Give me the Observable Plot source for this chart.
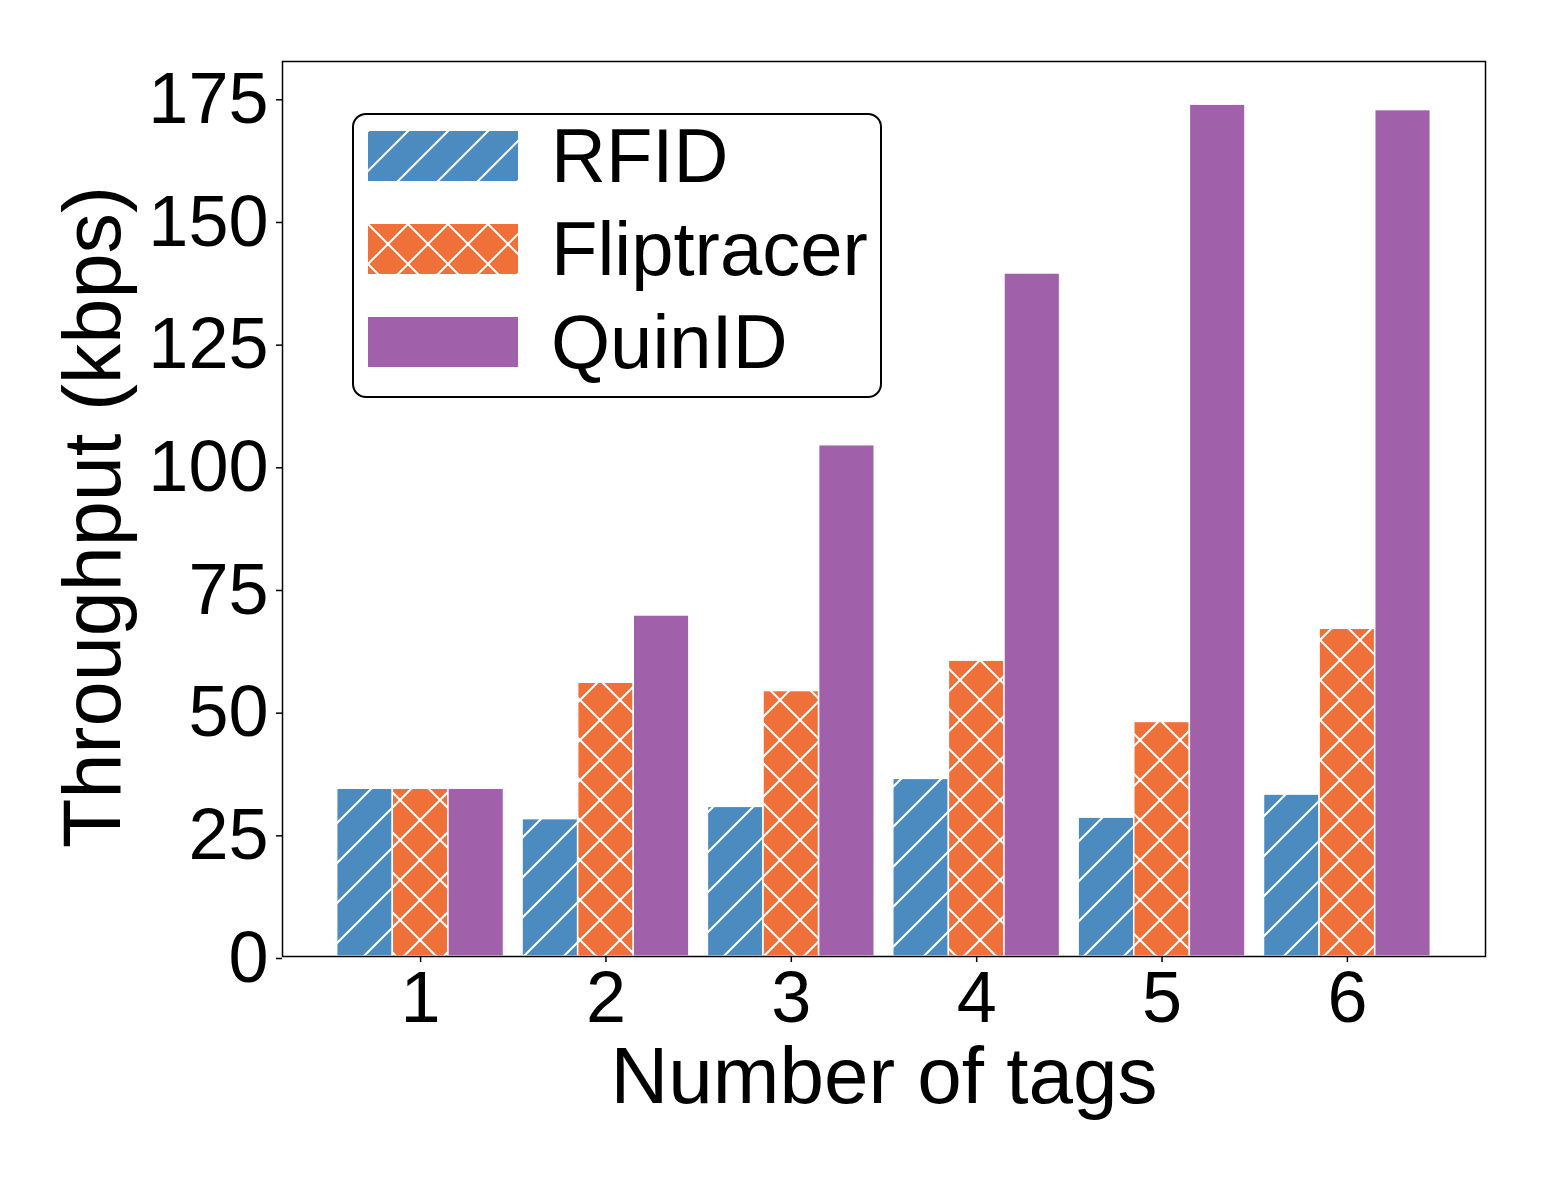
<!DOCTYPE html>
<html>
<head>
<meta charset="utf-8">
<script src="https://cdn.jsdelivr.net/npm/d3@7"></script>
<script src="https://cdn.jsdelivr.net/npm/@observablehq/plot@0.6"></script>
<style>
  html, body { margin: 0; padding: 0; background: #fff; }
  #wrap { position: relative; width: 1546px; height: 1181px; font-family: "Liberation Sans", Arial, sans-serif; }
  #legend { position: absolute; left: 352px; top: 113px; width: 526px; height: 281px; border: 2px solid #000; border-radius: 14px; background: #fff; box-sizing: content-box; }
  .item { position: absolute; left: 14px; height: 50px; display: flex; align-items: center; }
  .item svg { display: block; }
  .item span { position: absolute; left: 183px; top: 0; line-height: 50px; font-size: 76px; color: #000; white-space: nowrap; }
</style>
</head>
<body>
<div id="wrap"><div id="chart"></div><div id="legend"></div></div>
<script>
const tags = [1, 2, 3, 4, 5, 6];
const series = ["RFID", "Fliptracer", "QuinID"];
const rfid = [34.2, 28.0, 30.5, 36.2, 28.3, 33.0];
const fliptracer = [34.2, 55.8, 54.1, 60.3, 47.8, 66.8];
const quinid = [34.2, 69.5, 104.2, 139.2, 173.6, 172.5];
const colors = ["#4c8bbf", "#f07039", "#a160aa"];
const hatches = ["/", "x", ""];
const yTicks = [0, 25, 50, 75, 100, 125, 150, 175];
const xLabel = "Number of tags";
const yLabel = "Throughput (kbps)";

const values = [rfid, fliptracer, quinid];
const barWidth = 0.3;
const rows = [];
series.forEach((s, j) => {
  tags.forEach((t, i) => {
    rows.push({tag: t, series: s, value: values[j][i], offset: (j - 1) * barWidth});
  });
});
const patternIds = series.map((s, j) => "pat-" + j);

function defsMark() {
  const defs = d3.create("svg:defs");
  series.forEach((s, j) => {
    const p = defs.append("pattern")
      .attr("id", patternIds[j])
      .attr("patternUnits", "userSpaceOnUse")
      .attr("width", 40).attr("height", 40);
    p.append("rect").attr("width", 40).attr("height", 40).attr("fill", colors[j]);
    let d = "";
    if (hatches[j].includes("/") || hatches[j].includes("x")) d += "M-10,10L10,-10M0,40L40,0M30,50L50,30";
    if (hatches[j].includes("x")) d += "M0,0L40,40M-10,30L10,50M30,-10L50,10";
    if (d) p.append("path").attr("d", d).attr("stroke", "#fff").attr("stroke-width", 2).attr("fill", "none");
  });
  return defs.node();
}

const chart = Plot.plot({
  width: 1546,
  height: 1181,
  marginLeft: 282,
  marginRight: 61,
  marginTop: 61,
  marginBottom: 225,
  style: {fontFamily: "'Liberation Sans', Arial, sans-serif", fontSize: "72px", background: "#fff", color: "#000", overflow: "visible"},
  x: {type: "linear", domain: [0.255, 6.745]},
  y: {domain: [0, 182.4]},
  color: {domain: series, range: patternIds.map(id => `url(#${id})`)},
  marks: [
    defsMark,
    Plot.rect(rows, {
      x1: d => d.tag + d.offset - barWidth / 2,
      x2: d => d.tag + d.offset + barWidth / 2,
      y1: 0,
      y2: "value",
      fill: "series",
      stroke: "#fff",
      strokeWidth: 1.5
    }),
    Plot.frame({stroke: "#000", strokeWidth: 1.5}),
    Plot.axisX({ticks: tags, tickFormat: d => String(d), tickSize: 6, tickPadding: 8, strokeWidth: 1.5, fontSize: 72, label: null}),
    Plot.axisY({ticks: yTicks, tickFormat: d => String(d), tickSize: 6, tickPadding: 8, strokeWidth: 1.5, fontSize: 72, dy: 2, label: null}),
    Plot.text([xLabel], {frameAnchor: "bottom", lineAnchor: "top", dy: 90, fontSize: 80, text: d => d}),
    Plot.text([yLabel], {frameAnchor: "left", lineAnchor: "top", textAnchor: "middle", rotate: -90, dx: -220, dy: 8, fontSize: 81, text: d => d})
  ]
});
document.getElementById("chart").appendChild(chart);

const legend = d3.select("#legend");
series.forEach((s, j) => {
  const item = legend.append("div").attr("class", "item").style("top", (16 + j * 93) + "px");
  const sw = item.append("svg").attr("width", 150).attr("height", 50);
  sw.append("rect").attr("width", 150).attr("height", 50).attr("fill", `url(#${patternIds[j]})`);
  item.append("span").text(s);
});
</script>
</body>
</html>
